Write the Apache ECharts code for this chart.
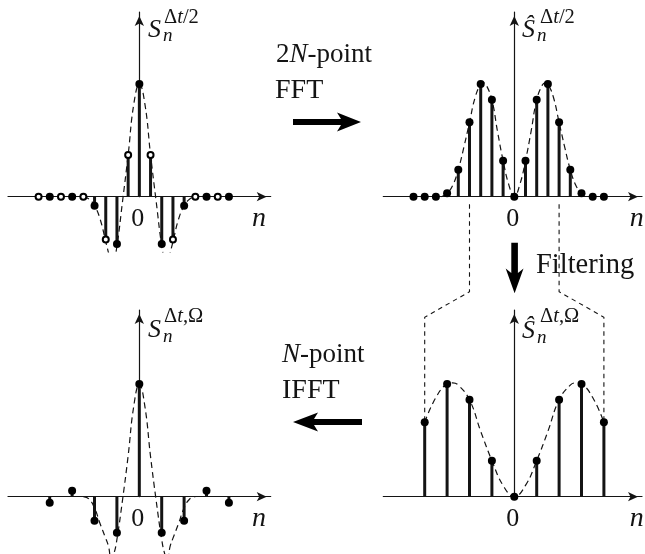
<!DOCTYPE html>
<html><head><meta charset="utf-8">
<script src="https://cdn.jsdelivr.net/npm/echarts@6/dist/echarts.min.js"></script>
<style>html,body{margin:0;padding:0;background:#fff}#c{width:645px;height:554px}</style>
</head><body><div id="c"></div>
<script>
// ---------- data ----------
// Panel 1: S_n^{Δt/2}, n = -9..8 (odd n drawn as open circles)
const N1 = [-9,-8,-7,-6,-5,-4,-3,-2,-1,0,1,2,3,4,5,6,7,8];
const S1 = [0,0,0,0,0,-0.08,-0.38,-0.42,0.37,1,0.37,-0.42,-0.38,-0.08,0,0,0,0];
const C1N = [-5,-4.5,-4,-3.5,-3,-2.75,-2.5,-2.25,-2,-1.5,-1,-0.5,0,0.5,1,1.5,2,2.25,2.5,2.75,3,3.5,4,4.5,5];
const C1V = [0,-0.02,-0.08,-0.2,-0.4,-0.5,-0.6,-0.55,-0.44,-0.04,0.37,0.82,1,0.82,0.37,-0.04,-0.44,-0.55,-0.6,-0.5,-0.4,-0.2,-0.08,-0.02,0];

// Panel 2: Ŝ_n^{Δt/2}, n = -9..8
const N2 = [-9,-8,-7,-6,-5,-4,-3,-2,-1,0,1,2,3,4,5,6,7,8];
const S2 = [0,0,0,0.03,0.24,0.66,1.0,0.86,0.32,0,0.32,0.86,1.0,0.66,0.24,0.03,0,0];
const C2N = [-6.5,-6,-5.5,-5,-4.5,-4,-3.5,-3,-2.75,-2.5,-2,-1.5,-1,-0.5,0,0.5,1,1.5,2,2.5,2.75,3,3.5,4,4.5,5,5.5,6,6.5];
const C2V = [0,0.03,0.1,0.24,0.44,0.66,0.88,1.0,1.01,0.99,0.86,0.58,0.32,0.11,0,0.11,0.32,0.58,0.86,0.99,1.01,1.0,0.88,0.66,0.44,0.24,0.1,0.03,0];

// Panel 3: S_n^{Δt,Ω}, n = -4..4
const N3 = [-4,-3,-2,-1,0,1,2,3,4];
const S3 = [-0.053,0.053,-0.213,-0.32,1,-0.32,-0.213,0.053,-0.053];
const C3N = [-2.5,-2.25,-2,-1.75,-1.5,-1.375,-1.25,-1.125,-1,-0.75,-0.5,-0.25,0,0.25,0.5,0.75,1,1.125,1.25,1.375,1.5,1.75,2,2.25,2.5];
const C3V = [0,-0.02,-0.1,-0.24,-0.37,-0.44,-0.56,-0.5,-0.38,-0.03,0.36,0.8,1,0.8,0.36,-0.03,-0.38,-0.5,-0.56,-0.44,-0.37,-0.24,-0.1,-0.02,0];

// Panel 4: Ŝ_n^{Δt,Ω}, n = -4..4
const N4 = [-4,-3,-2,-1,0,1,2,3,4];
const S4 = [0.66,1.0,0.86,0.32,0,0.32,0.86,1.0,0.66];
const C4N = [-4,-3.5,-3,-2.75,-2.5,-2,-1.5,-1,-0.5,0,0.5,1,1.5,2,2.5,2.75,3,3.5,4];
const C4V = [0.66,0.88,1.0,1.01,0.99,0.86,0.58,0.32,0.1,0,0.1,0.32,0.58,0.86,0.99,1.01,1.0,0.88,0.66];

const ZERO_TICK = [0];
const FILTER_EDGE = [-4, 4];

// ---------- layout / style ----------
const INK = '#141414';
const FONT = 'Liberation Serif';

const panels = [
  {g:{left:8, top:12, width:262.7, height:240}, gyH:184.7, x:[-11.73,11.73], y:[-0.4907,1.639], n:N1, s:S1, cn:C1N, cv:C1V, open:true},
  {g:{left:383.3, top:12, width:258.7, height:240}, gyH:184.7, x:[-11.696,11.402], y:[-0.4907,1.639], n:N2, s:S2, cn:C2N, cv:C2V},
  {g:{left:8, top:310, width:262.7, height:244}, gyH:186.7, x:[-5.862,5.866], y:[-0.5084,1.6566], n:N3, s:S3, cn:C3N, cv:C3V},
  {g:{left:383.3, top:310, width:258.7, height:244}, gyH:186.7, x:[-5.848,5.701], y:[-0.5084,1.6566], n:N4, s:S4, cn:C4N, cv:C4V}
];

const grid = [], xAxis = [], yAxis = [], series = [];
const arrowLine = {show:true, onZero:true, symbol:['none','arrow'], symbolSize:[7,10], symbolOffset:[0,-4], lineStyle:{color:INK, width:1.2}};

panels.forEach((p, i) => {
  const a = 2*i, b = 2*i+1;
  grid.push(Object.assign({containLabel:false, outerBoundsMode:'none'}, p.g));
  grid.push({containLabel:false, outerBoundsMode:'none', left:p.g.left, top:p.g.top, width:p.g.width, height:p.gyH});
  xAxis.push({gridIndex:a, type:'value', min:p.x[0], max:p.x[1],
    axisLine:arrowLine, axisTick:{show:false}, splitLine:{show:false}, axisLabel:{show:false}});
  yAxis.push({gridIndex:a, type:'value', min:p.y[0], max:p.y[1], show:false, splitLine:{show:false}});
  xAxis.push({gridIndex:b, type:'value', min:p.x[0], max:p.x[1], show:false, splitLine:{show:false}});
  yAxis.push({gridIndex:b, type:'value', min:0, max:p.y[1],
    axisLine:arrowLine, axisTick:{show:false}, axisLabel:{show:false}, splitLine:{show:false}});

  series.push({type:'line', xAxisIndex:a, yAxisIndex:a, smooth:0.45, symbol:'none', clip:true, silent:true, z:2,
    data:p.cn.map((x,k)=>[x,p.cv[k]]), lineStyle:{color:INK, width:1.2, opacity:1, type:[6,4]}});
  series.push({type:'bar', xAxisIndex:a, yAxisIndex:a, barWidth:3, silent:true, z:3,
    data:p.n.map((x,k)=>[x,p.s[k]]), itemStyle:{color:INK, opacity:1}});
  const filled = p.n.map((x,k)=>[x,p.s[k]]).filter(d => !p.open || Math.abs(d[0]) % 2 === 0);
  series.push({type:'scatter', xAxisIndex:a, yAxisIndex:a, symbolSize:8, silent:true, z:4,
    data:filled, itemStyle:{color:'#000', opacity:1}});
  if (p.open) {
    const hollow = p.n.map((x,k)=>[x,p.s[k]]).filter(d => Math.abs(d[0]) % 2 === 1);
    series.push({type:'scatter', xAxisIndex:a, yAxisIndex:a, symbolSize:6, silent:true, z:5,
      data:hollow, itemStyle:{color:'#fff', borderColor:'#000', borderWidth:2, opacity:1}});
  }
});

const chart = echarts.init(document.getElementById('c'));
chart.setOption({animation:false, backgroundColor:'#fff', grid, xAxis, yAxis, series});

function R(x, y, text, size, align) {
  return {type:'text', x, y, silent:true, z:20, style:{text, fill:INK, fontFamily:FONT, fontSize:size,
    align:align||'left', verticalAlign:'middle',
    rich:{i:{fontFamily:FONT, fontSize:size, fontStyle:'italic', fill:INK, color:INK},
          u:{fontFamily:FONT, fontSize:size, fill:INK, color:INK}}}};
}

const gfx = [];
// axis titles
gfx.push(R(148, 30, '{i|S}', 26), R(164, 18, '{u|Δ}{i|t}{u|/2}', 20.5), R(163, 36, '{i|n}', 19));
gfx.push(R(522, 30, '{i|Ŝ}', 26), R(540, 18, '{u|Δ}{i|t}{u|/2}', 20.5), R(537, 36, '{i|n}', 19));
gfx.push(R(148, 330, '{i|S}', 26), R(164, 317, '{u|Δ}{i|t}{u|,Ω}', 20.5), R(163, 337, '{i|n}', 19));
gfx.push(R(522, 331, '{i|Ŝ}', 26), R(540, 317, '{u|Δ}{i|t}{u|,Ω}', 20.5), R(537, 338, '{i|n}', 19));
// "0" tick labels and n axis names
[0,2,4,6].forEach(ai => {
  ZERO_TICK.forEach(v => {
    const p = chart.convertToPixel({xAxisIndex:ai, yAxisIndex:ai}, [v, 0]);
    gfx.push(R(p[0]-1.5, p[1]+22.5, '{u|' + v + '}', 26, 'center'));
  });
});
gfx.push(R(259, 219, '{i|n}', 28, 'center'), R(636.7, 219, '{i|n}', 28, 'center'),
         R(259, 519, '{i|n}', 28, 'center'), R(636.7, 519, '{i|n}', 28, 'center'));
// process texts
gfx.push(R(276, 55, '{u|2}{i|N}{u|-point}', 27), R(275, 91, '{u|FFT}', 28));
gfx.push(R(282, 355, '{i|N}{u|-point}', 27), R(282, 391, '{u|IFFT}', 28));
gfx.push(R(536, 265.5, '{u|Filtering}', 28.5));
// thick arrows
gfx.push({type:'polygon', silent:true, z:20, shape:{points:[[293,119],[341,119],[337,112.5],[361,122],[337,131.5],[341,125],[293,125]]}, style:{fill:'#000'}});
gfx.push({type:'polygon', silent:true, z:20, shape:{points:[[362,419],[314,419],[318,412.5],[293,422],[318,431.5],[314,425],[362,425]]}, style:{fill:'#000'}});
gfx.push({type:'polygon', silent:true, z:20, shape:{points:[[511.3,242.7],[517.9,242.7],[517.9,273],[523.5,268.5],[514.6,293.3],[505.7,268.5],[511.3,273]]}, style:{fill:'#000'}});

// dashed connectors from panel 2 band edges to panel 4 end samples
FILTER_EDGE.forEach(nv => {
  const k = N4.indexOf(nv);
  const top = chart.convertToPixel({xAxisIndex:2, yAxisIndex:2}, [nv, 0]);
  const bot = chart.convertToPixel({xAxisIndex:6, yAxisIndex:6}, [nv, S4[k]]);
  gfx.push({type:'polyline', silent:true, z:1, shape:{points:[[top[0], top[1]+7.5],[top[0],291.7],[bot[0],317.3],[bot[0],bot[1]]]},
    style:{stroke:INK, lineWidth:1.1, lineDash:[4.5,4], fill:null}});
});

chart.setOption({graphic:{elements:gfx}});
</script></body></html>
